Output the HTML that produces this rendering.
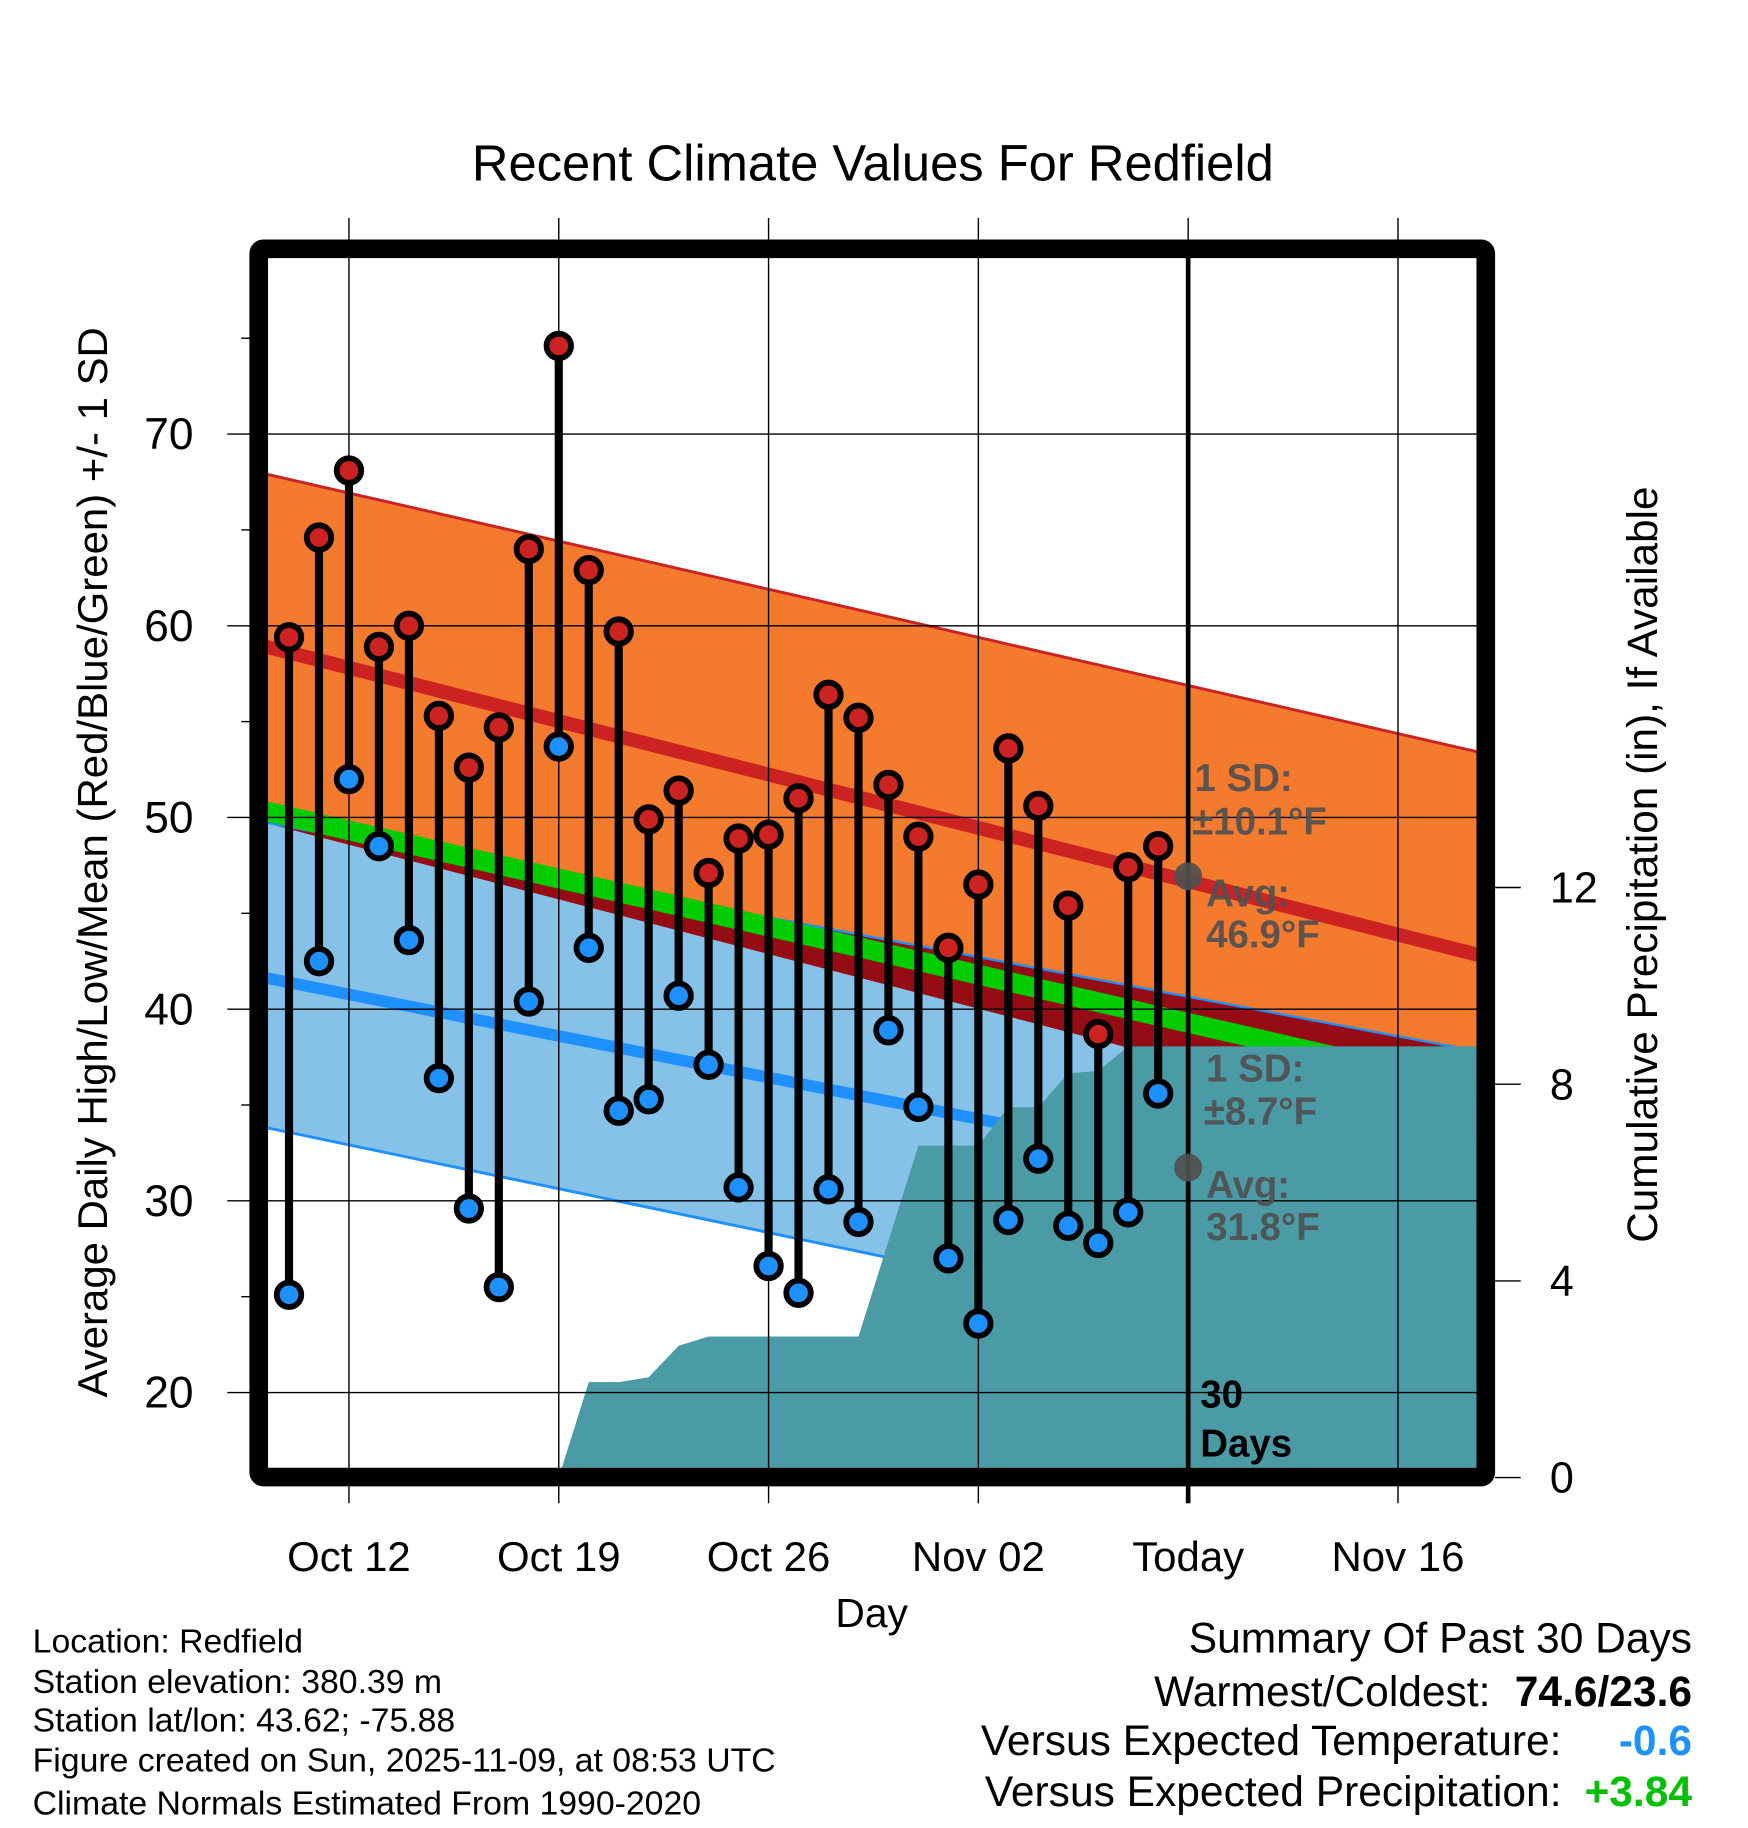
<!DOCTYPE html>
<html><head><meta charset="utf-8">
<style>
html,body{margin:0;padding:0;background:#fff;}
svg{display:block;font-family:"Liberation Sans",Arial,sans-serif;}
</style></head>
<body>
<svg id="chart" width="1748" height="1828" viewBox="0 0 1500 1568.7" xmlns="http://www.w3.org/2000/svg">
<defs><clipPath id="plotclip"><rect x="230" y="221.5" width="1037" height="1038"/></clipPath></defs>
<rect width="1500" height="1568.7" fill="#fff"/>
<text x="749" y="155" font-size="43.5" text-anchor="middle">Recent Climate Values For Redfield</text>
<g id="plot" clip-path="url(#plotclip)"></g>
<g id="over"></g>
<rect x="222" y="213.5" width="1053" height="1054" fill="none" stroke="#000" stroke-width="16" rx="4"/>
<g id="axes"></g>
<text transform="translate(92,740) rotate(-90)" font-size="36" text-anchor="middle">Average Daily High/Low/Mean (Red/Blue/Green) +/- 1 SD</text>
<text transform="translate(1422,742) rotate(-90)" font-size="36.3" text-anchor="middle">Cumulative Precipitation (in), If Available</text>
<text x="748" y="1396" font-size="35" text-anchor="middle">Day</text>
<g font-size="29">
<text x="28" y="1418">Location: Redfield</text>
<text x="28" y="1453">Station elevation: 380.39 m</text>
<text x="28" y="1486">Station lat/lon: 43.62; -75.88</text>
<text x="28" y="1520">Figure created on Sun, 2025-11-09, at 08:53 UTC</text>
<text x="28" y="1557">Climate Normals Estimated From 1990-2020</text>
</g>
<g font-size="36.5" text-anchor="end">
<text x="1452" y="1418">Summary Of Past 30 Days</text>
<text x="1279" y="1464">Warmest/Coldest:</text>
<text x="1452" y="1464" font-weight="bold">74.6/23.6</text>
<text x="1340" y="1506">Versus Expected Temperature:</text>
<text x="1452" y="1506" font-weight="bold" fill="#1e90ff">-0.6</text>
<text x="1340" y="1550">Versus Expected Precipitation:</text>
<text x="1452" y="1550" font-weight="bold" fill="#00c000">+3.84</text>
</g>
<g font-weight="bold" font-size="33" fill="#505050" fill-opacity="0.92">
<circle cx="1019.6" cy="752" r="12" fill="#505050"/>
<circle cx="1019.6" cy="1002" r="12" fill="#505050"/>
<text x="1025" y="679">1 SD:</text>
<text x="1023" y="716">±10.1°F</text>
<text x="1035" y="778">Avg:</text>
<text x="1035" y="813">46.9°F</text>
<text x="1035" y="928">1 SD:</text>
<text x="1033" y="965">±8.7°F</text>
<text x="1035" y="1028">Avg:</text>
<text x="1035" y="1064">31.8°F</text>
<text x="1030" y="1208" fill="#000" fill-opacity="1">30</text>
<text x="1030" y="1250" fill="#000" fill-opacity="1">Days</text>
</g>
</svg>
<script>
// ---- data ----
const dayLabels = ["Oct 12","Oct 19","Oct 26","Nov 02","Today","Nov 16"];
const dayTicks = [2,9,16,23,30,37];
const highs = [59.4,64.6,68.1,58.9,60.0,55.3,52.6,54.7,64.0,74.6,62.9,59.7,49.9,51.4,47.1,48.9,49.1,51.0,56.4,55.2,51.7,49.0,43.2,46.5,53.6,50.6,45.4,38.7,47.4,48.5];
const lows = [25.1,42.5,52.0,48.5,43.6,36.4,29.6,25.5,40.4,53.7,43.2,34.7,35.3,40.7,37.1,30.7,26.6,25.2,30.6,28.9,38.9,34.9,27.0,23.6,29.0,32.2,28.7,27.8,29.4,35.6];
const normDays = [-1,40];
const highPlusSD = [68.0,53.3];
const highMean = [59.0,42.7];
const highMinusSD = [49.8,33.1];
const meanNormal = [50.4,35.7];
const lowPlusSD = [49.8,37.7];
const lowMean = [41.7,29.0];
const lowMinusSD = [33.9,20.5];
const precipDays = [9,10,11,12,13,14,15,16,17,18,19,20,21,22,23,24,25,26,27,28,29,40];
const precipCum = [0,1.94,1.94,2.04,2.68,2.87,2.87,2.87,2.87,2.87,2.87,4.81,6.75,6.75,6.75,7.53,7.53,8.22,8.27,8.77,8.77,8.77];
const yTicks = [20,30,40,50,60,70];
const yMinorTicks = [25,35,45,55,65,75];
const pTicks = [0,4,8,12];

// ---- axes ----
function X(d){return 248+d*25.72;}
function Y(t){return 1195-(t-20)*16.45;}
function YP(p){return 1268-p*42.2;}

const NS="http://www.w3.org/2000/svg";
const plot=document.getElementById('plot');
const over=document.getElementById('over');
const axes=document.getElementById('axes');
function mk(tag,attrs,parent){const e=document.createElementNS(NS,tag);for(const k in attrs)e.setAttribute(k,attrs[k]);parent.appendChild(e);return e;}
function lineAt(arr,i){return [X(normDays[i]),Y(arr[i])];}
function band(top,bot){
  const p=[lineAt(top,0),lineAt(top,1),lineAt(bot,1),lineAt(bot,0)];
  return p.map(q=>q[0].toFixed(1)+','+q[1].toFixed(1)).join(' ');
}
let el;
el=mk('polygon',{points:band(highPlusSD,highMinusSD),fill:'#f47a2e'},plot);


el=mk('polygon',{points:band(lowPlusSD,lowMinusSD),fill:'#86c2e8'},plot);


el=mk('polygon',{points:band(lowPlusSD,highMinusSD),fill:'#960c14'},plot);


function nline(arr,color,w,name){
  const a=lineAt(arr,0),b=lineAt(arr,1);
  const l=mk('line',{x1:a[0],y1:a[1],x2:b[0],y2:b[1],stroke:color,'stroke-width':w},plot);
  
  
}
nline(highPlusSD,'#cc2222',2.5,'high-plus-sd-line');
nline(lowPlusSD,'#1e90ff',2,'low-plus-sd-line');
nline(lowMinusSD,'#1e90ff',2.5,'low-minus-sd-line');
nline(highMean,'#cc2222',12,'normal-high-line');
nline(meanNormal,'#00cc00',17,'normal-mean-line');
nline(lowMean,'#1e90ff',10,'normal-low-line');

// precip
let pts=[[X(precipDays[0]),1270]];
for(let i=0;i<precipDays.length;i++)pts.push([X(precipDays[i]),YP(precipCum[i])]);
pts.push([X(precipDays[precipDays.length-1]),1270]);
el=mk('polygon',{points:pts.map(q=>q[0].toFixed(1)+','+q[1].toFixed(1)).join(' '),fill:'#4a9ba5'},plot);



// grid
yTicks.forEach(t=>{
  const g=mk('line',{x1:230,x2:1267,y1:Y(t),y2:Y(t),stroke:'#000','stroke-width':1.2},plot);
  
  
  const tk=mk('line',{x1:195,x2:216,y1:Y(t),y2:Y(t),stroke:'#000','stroke-width':1.2},axes);
  
  
  const tx=mk('text',{x:166,y:Y(t)+13,'font-size':38,'text-anchor':'end'},axes);
  tx.textContent=t;
  
  
});
yMinorTicks.forEach(t=>{
  const tk=mk('line',{x1:207,x2:216,y1:Y(t),y2:Y(t),stroke:'#000','stroke-width':1.2},axes);
  
  
});
pTicks.forEach(p=>{
  const tk=mk('line',{x1:1283,x2:1305,y1:YP(p),y2:YP(p),stroke:'#000','stroke-width':1.2},axes);
  
  
  const tx=mk('text',{x:1330,y:YP(p)+13,'font-size':37},axes);
  tx.textContent=p;
  
  
});
dayTicks.forEach((d,i)=>{
  const g=mk('line',{x1:X(d),x2:X(d),y1:187,y2:1290,stroke:'#000','stroke-width':1.2},over);
  
  
  const tx=mk('text',{x:X(d),y:1348,'font-size':36,'text-anchor':'middle'},axes);
  tx.textContent=dayLabels[i];
  
  
});

// stems and dots
for(let i=0;i<highs.length;i++){
  const x=X(i);
  const s=mk('line',{x1:x,x2:x,y1:Y(highs[i]),y2:Y(lows[i]),stroke:'#000','stroke-width':7},over);
  
  
}
for(let i=0;i<highs.length;i++){
  const x=X(i);
  const h=mk('circle',{cx:x,cy:Y(highs[i]),r:10.5,fill:'#cc2222',stroke:'#000','stroke-width':5},over);
  
  
  const l=mk('circle',{cx:x,cy:Y(lows[i]),r:10.5,fill:'#1e90ff',stroke:'#000','stroke-width':5},over);
  
  
}
// today line
el=mk('line',{x1:X(30),x2:X(30),y1:221,y2:1290,stroke:'#000','stroke-width':4},over);


</script>
</body></html>
